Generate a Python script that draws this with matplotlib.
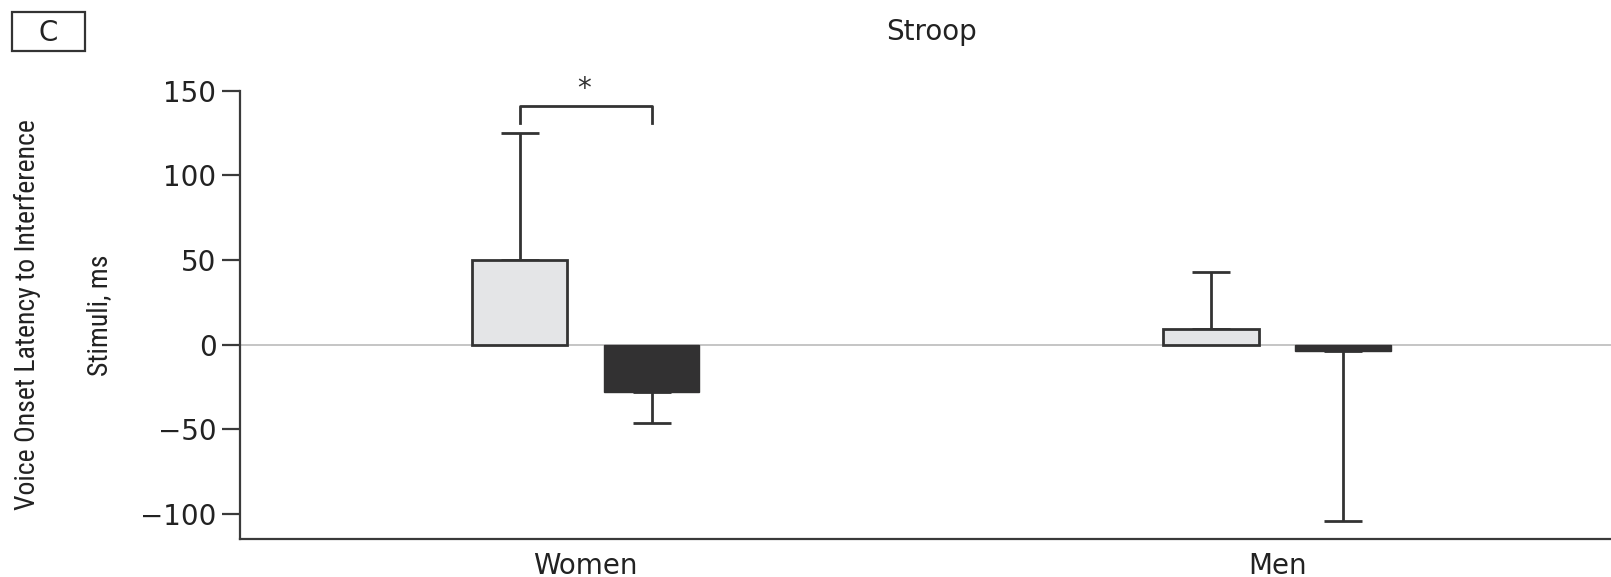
import matplotlib
matplotlib.use("Agg")
import matplotlib.pyplot as plt
from matplotlib.patches import Rectangle

# Stroop interference: voice onset latency by sex and condition
groups = ["Women", "Men"]
light_means = [50, 9]
light_err = [75, 34]
dark_means = [-28, -3.5]
dark_err = [18.5, 100.5]

LIGHT = "#e4e5e7"
DARK = "#323132"
EDGE = "#333333"


def main():
    fig = plt.figure(figsize=(16.11, 5.77), dpi=100)
    ax = fig.add_axes([0.149, 0.065, 0.851, 0.778])

    x = list(range(len(groups)))
    width = 0.138
    off = 0.0955
    xl = [i - off for i in x]
    xd = [i + off for i in x]

    ax.axhline(0, color="#b5b5b5", lw=1.1, zorder=1)

    ax.bar(xl, light_means, width, color=LIGHT, edgecolor=EDGE, linewidth=2, zorder=3)
    ax.bar(xd, dark_means, width, color=DARK, edgecolor=DARK, linewidth=1, zorder=3)

    # one-sided error bars, pointing away from zero
    ax.errorbar(xl, light_means, yerr=[[0] * len(x), light_err], fmt="none",
                ecolor=EDGE, elinewidth=2, capsize=14, capthick=2, zorder=2)
    ax.errorbar(xd, dark_means, yerr=[dark_err, [0] * len(x)], fmt="none",
                ecolor=EDGE, elinewidth=2, capsize=14, capthick=2, zorder=2)

    # significance bracket over the women's bars
    ax.plot([xl[0], xl[0], xd[0], xd[0]], [131, 141, 141, 131], color=EDGE, lw=2,
            clip_on=False)
    ax.text(x[0] - 0.003, 151, "*", ha="center", va="center", fontsize=20,
            color=EDGE, clip_on=False)

    ax.set_xlim(-0.5, 1.483)
    ax.set_ylim(-115, 150)
    ax.set_yticks([-100, -50, 0, 50, 100, 150])
    ax.set_xticks(x)
    ax.set_xticklabels(groups)

    for side in ["top", "right"]:
        ax.spines[side].set_visible(False)
    for side in ["left", "bottom"]:
        ax.spines[side].set_linewidth(1.6)
        ax.spines[side].set_color("#3a3a3a")

    ax.tick_params(axis="y", length=13, width=1.6, color="#3a3a3a", pad=4,
                   labelsize=20, labelcolor="#222222")
    ax.tick_params(axis="x", length=0, pad=9, labelsize=20, labelcolor="#222222")

    ax.set_ylabel("Voice Onset Latency to Interference\nStimuli, ms",
                  family=["Roboto Condensed", "Liberation Sans Narrow", "Liberation Sans"],
                  fontsize=20, linespacing=3.1, color="#222222")
    ax.yaxis.set_label_coords(-0.093, 0.5)

    fig.text(0.578, 0.944, "Stroop", ha="center", va="center", fontsize=20,
             color="#222222")

    # panel letter in a box
    fig.patches.append(Rectangle((12 / 1611, 1 - 51 / 577), 73 / 1611, 39 / 577,
                                 transform=fig.transFigure, fill=False,
                                 edgecolor=EDGE, linewidth=1.6))
    fig.text(48 / 1611, 1 - 33 / 577, "C", ha="center", va="center", fontsize=20,
             color="#222222")

    fig.savefig("out.png", dpi=100)
    plt.close(fig)


if __name__ == "__main__":
    main()
